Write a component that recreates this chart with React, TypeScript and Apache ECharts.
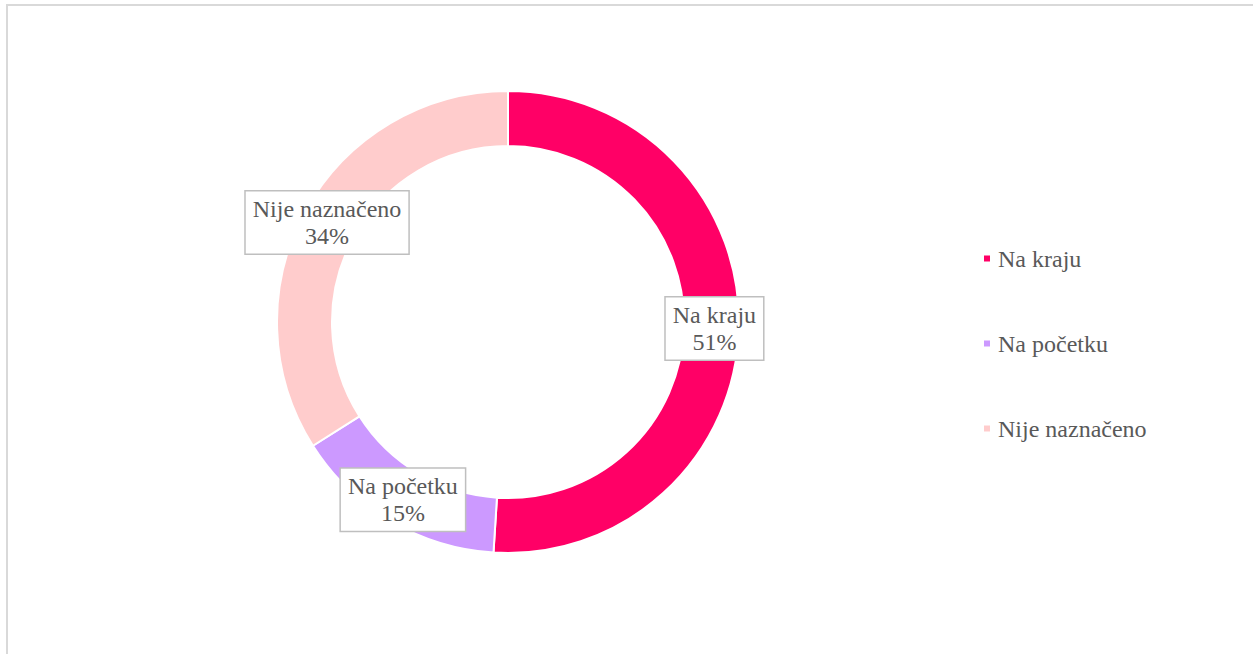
import React, { useEffect, useRef } from "react";
import * as echarts from "echarts";

const categories = ["Na kraju", "Na početku", "Nije naznačeno"];
const values = [51, 15, 34];
const colors = ["#FF0066", "#CC99FF", "#FFCCCC"];

export default function App() {
  const ref = useRef<HTMLDivElement>(null);
  useEffect(() => {
    if (!ref.current) return;
    const chart = echarts.init(ref.current, undefined, { renderer: "svg" });
    const font = "'Liberation Serif', 'Times New Roman', serif";
    chart.setOption({
      animation: false,
      backgroundColor: "#ffffff",
      legend: {
        orient: "vertical",
        left: 977,
        top: 240,
        itemWidth: 8,
        itemHeight: 8,
        itemGap: 58,
        icon: "rect",
        data: categories,
        textStyle: {
          fontFamily: font,
          fontSize: 24,
          color: "#595959",
          lineHeight: 27,
          padding: [0, 0, 0, 2],
        },
      },
      series: [
        {
          type: "pie",
          center: [508, 322],
          radius: [176, 231],
          startAngle: 90,
          clockwise: true,
          avoidLabelOverlap: false,
          itemStyle: { borderColor: "#ffffff", borderWidth: 2 },
          label: {
            show: true,
            position: "inside",
            formatter: "{b}\n{c}%",
            fontFamily: font,
            fontSize: 24,
            lineHeight: 27,
            color: "#595959",
            backgroundColor: "#ffffff",
            borderColor: "#bfbfbf",
            borderWidth: 1.5,
            padding: [4, 7, 4, 7],
            align: "center",
          },
          labelLine: { show: false },
          emphasis: { disabled: true },
          data: categories.map((name, i) => ({
            name,
            value: values[i],
            itemStyle: { color: colors[i] },
          })),
        },
      ],
    });
    return () => chart.dispose();
  }, []);
  return (
    <div style={{ position: "fixed", left: 0, top: 0, width: 1253, height: 654, background: "#fff" }}>
      <div ref={ref} style={{ position: "absolute", left: 0, top: 0, width: 1253, height: 654 }} />
      <div
        style={{
          position: "absolute",
          left: 6,
          top: 4,
          width: 1300,
          height: 700,
          border: "2px solid #d9d9d9",
          pointerEvents: "none",
        }}
      />
    </div>
  );
}
